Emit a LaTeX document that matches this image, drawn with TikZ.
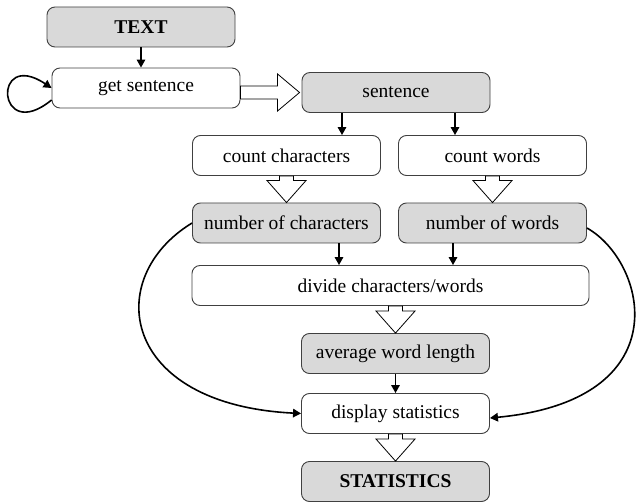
\documentclass[tikz,border=0pt]{standalone}
\usepackage{fontspec}
\setmainfont{Liberation Serif}
\usetikzlibrary{arrows.meta,calc}
\begin{document}
\begin{tikzpicture}[x=1pt,y=-1pt,
  box/.style={draw=black!75,line width=0.9pt,rounded corners=8pt,minimum width=188pt,minimum height=40pt,
    inner sep=0pt,font=\fontsize{19.5}{23}\selectfont,fill=white},
  gbox/.style={box,fill=black!15},
  arr/.style={line width=1.6pt,-{Triangle[length=8pt,width=8.5pt]}},
  hollow/.style={draw=black,line width=0.8pt,fill=white,line join=miter}]
\useasboundingbox (0,0) rectangle (636,502);
\node[gbox] (txt) at (141,27) {\textbf{TEXT}};
\node[box] (gs) at (146,88) {get sentence};
\node[gbox] (s) at (396,92.5) {sentence};
\node[box] (cc) at (286.5,155.5) {count characters};
\node[box] (cw) at (492.5,155.5) {count words};
\node[gbox] (nc) at (286.5,223) {number of characters};
\node[gbox] (nw) at (492.5,223) {number of words};
\node[box,minimum width=397pt] (dv) at (390.5,285.5) {divide characters/words};
\node[gbox] (avg) at (395.5,353.5) {average word length};
\node[box] (disp) at (395.5,413.5) {display statistics};
\node[gbox] (st) at (395.5,481.5) {\textbf{STATISTICS}};
% small arrows
\draw[arr] (txt.south) -- (txt.south |- gs.north);
\draw[arr] ([xshift=-54pt]s.south) -- ([xshift=-54pt]s.south |- cc.north);
\draw[arr] ([xshift=59pt]s.south) -- ([xshift=59pt]s.south |- cw.north);
\draw[arr] ([xshift=52.5pt]nc.south) -- ([xshift=52.5pt]nc.south |- dv.north);
\draw[arr] ([xshift=-39.5pt]nw.south) -- ([xshift=-39.5pt]nw.south |- dv.north);
\draw[arr] (avg.south) -- (avg.south |- disp.north);
% hollow arrows
\path let \p1=(gs.east), \p2=(s.west) in
  [hollow] (\x1,\y2+6.5pt) -- (\x2-24pt,\y2+6.5pt) -- (\x2-24pt,\y2+18.5pt) -- (\x2-2pt,\y2)
  -- (\x2-24pt,\y2-18.5pt) -- (\x2-24pt,\y2-6.5pt) -- (\x1,\y2-6.5pt) -- cycle;
\foreach \a/\b in {cc/nc,cw/nw,dv/avg,disp/st}{
  \path let \p1=(\a.south), \p2=(\b.north) in
  [hollow] (\x2-7pt,\y1) -- (\x2-7pt,\y2+22pt) -- (\x2-19.5pt,\y2+22pt) -- (\x2,\y2)
  -- (\x2+19.5pt,\y2+22pt) -- (\x2+7pt,\y2+22pt) -- (\x2+7pt,\y1) -- cycle;
}
% loops and curves
\draw[arr] ([yshift=-12pt]gs.west) .. controls +(-55,45) and +(-60,-40) .. (gs.west);
\draw[arr] (nc.west) .. controls +(-90,55) and +(-181,-9) .. (disp.west);
\draw[arr] ([yshift=-5pt]nw.east) .. controls +(60,34) and +(191,-18) .. ([yshift=-4.5pt]disp.east);
\end{tikzpicture}
\end{document}
